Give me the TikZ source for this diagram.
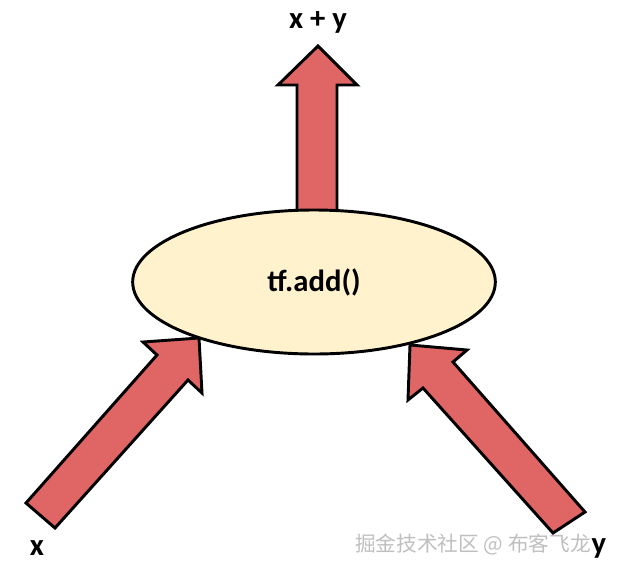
\documentclass[tikz,border=0pt]{standalone}
\usetikzlibrary{shapes.geometric}
\usepackage{fontspec}
\setmainfont{Carlito}
\newfontfamily\cjk{Noto Sans CJK SC}
\definecolor{arrowred}{HTML}{E06666}
\definecolor{ellfill}{HTML}{FFF2CC}
\begin{document}
\begin{tikzpicture}[x=0.75pt,y=-0.75pt,
  fatarrow/.style={draw=black,line width=2.2pt,fill=arrowred,line join=miter},
  lbl/.style={font=\fontsize{23}{27}\selectfont\bfseries,text=black,inner sep=0pt}]
\useasboundingbox[fill=white] (0,0) rectangle (632,572);
% arrows (drawn first, ellipse overlaps)
\draw[fatarrow] (297,215) -- (297,85) -- (278,85) -- (318,46) -- (357,85) -- (337,85) -- (337,215) -- cycle;
\draw[fatarrow] (26,503) -- (157,355) -- (143,342) -- (199,338) -- (202,393) -- (188,380) -- (55,528) -- cycle;
\draw[fatarrow] (585,512) -- (453,362) -- (467,350) -- (410,345) -- (408,400) -- (423,388) -- (553,533) -- cycle;
% ellipse
\node[draw=black,line width=2.2pt,fill=ellfill,ellipse,minimum width=272pt,minimum height=108pt,inner sep=0pt] (op) at (314,282) {};
\node[lbl] (t) at (op.center) {tf.add()};
\node[lbl] (xy) at (318,22) {x + y};
\node[lbl] (x) at (37,548) {x};
\node[lbl] (y) at (599,548) {y};
\node[font=\cjk\fontsize{15.5}{18}\selectfont,text=black!25,inner sep=0pt] (wm) at (473,545) {掘金技术社区 @ 布客飞龙};
\end{tikzpicture}
\end{document}
